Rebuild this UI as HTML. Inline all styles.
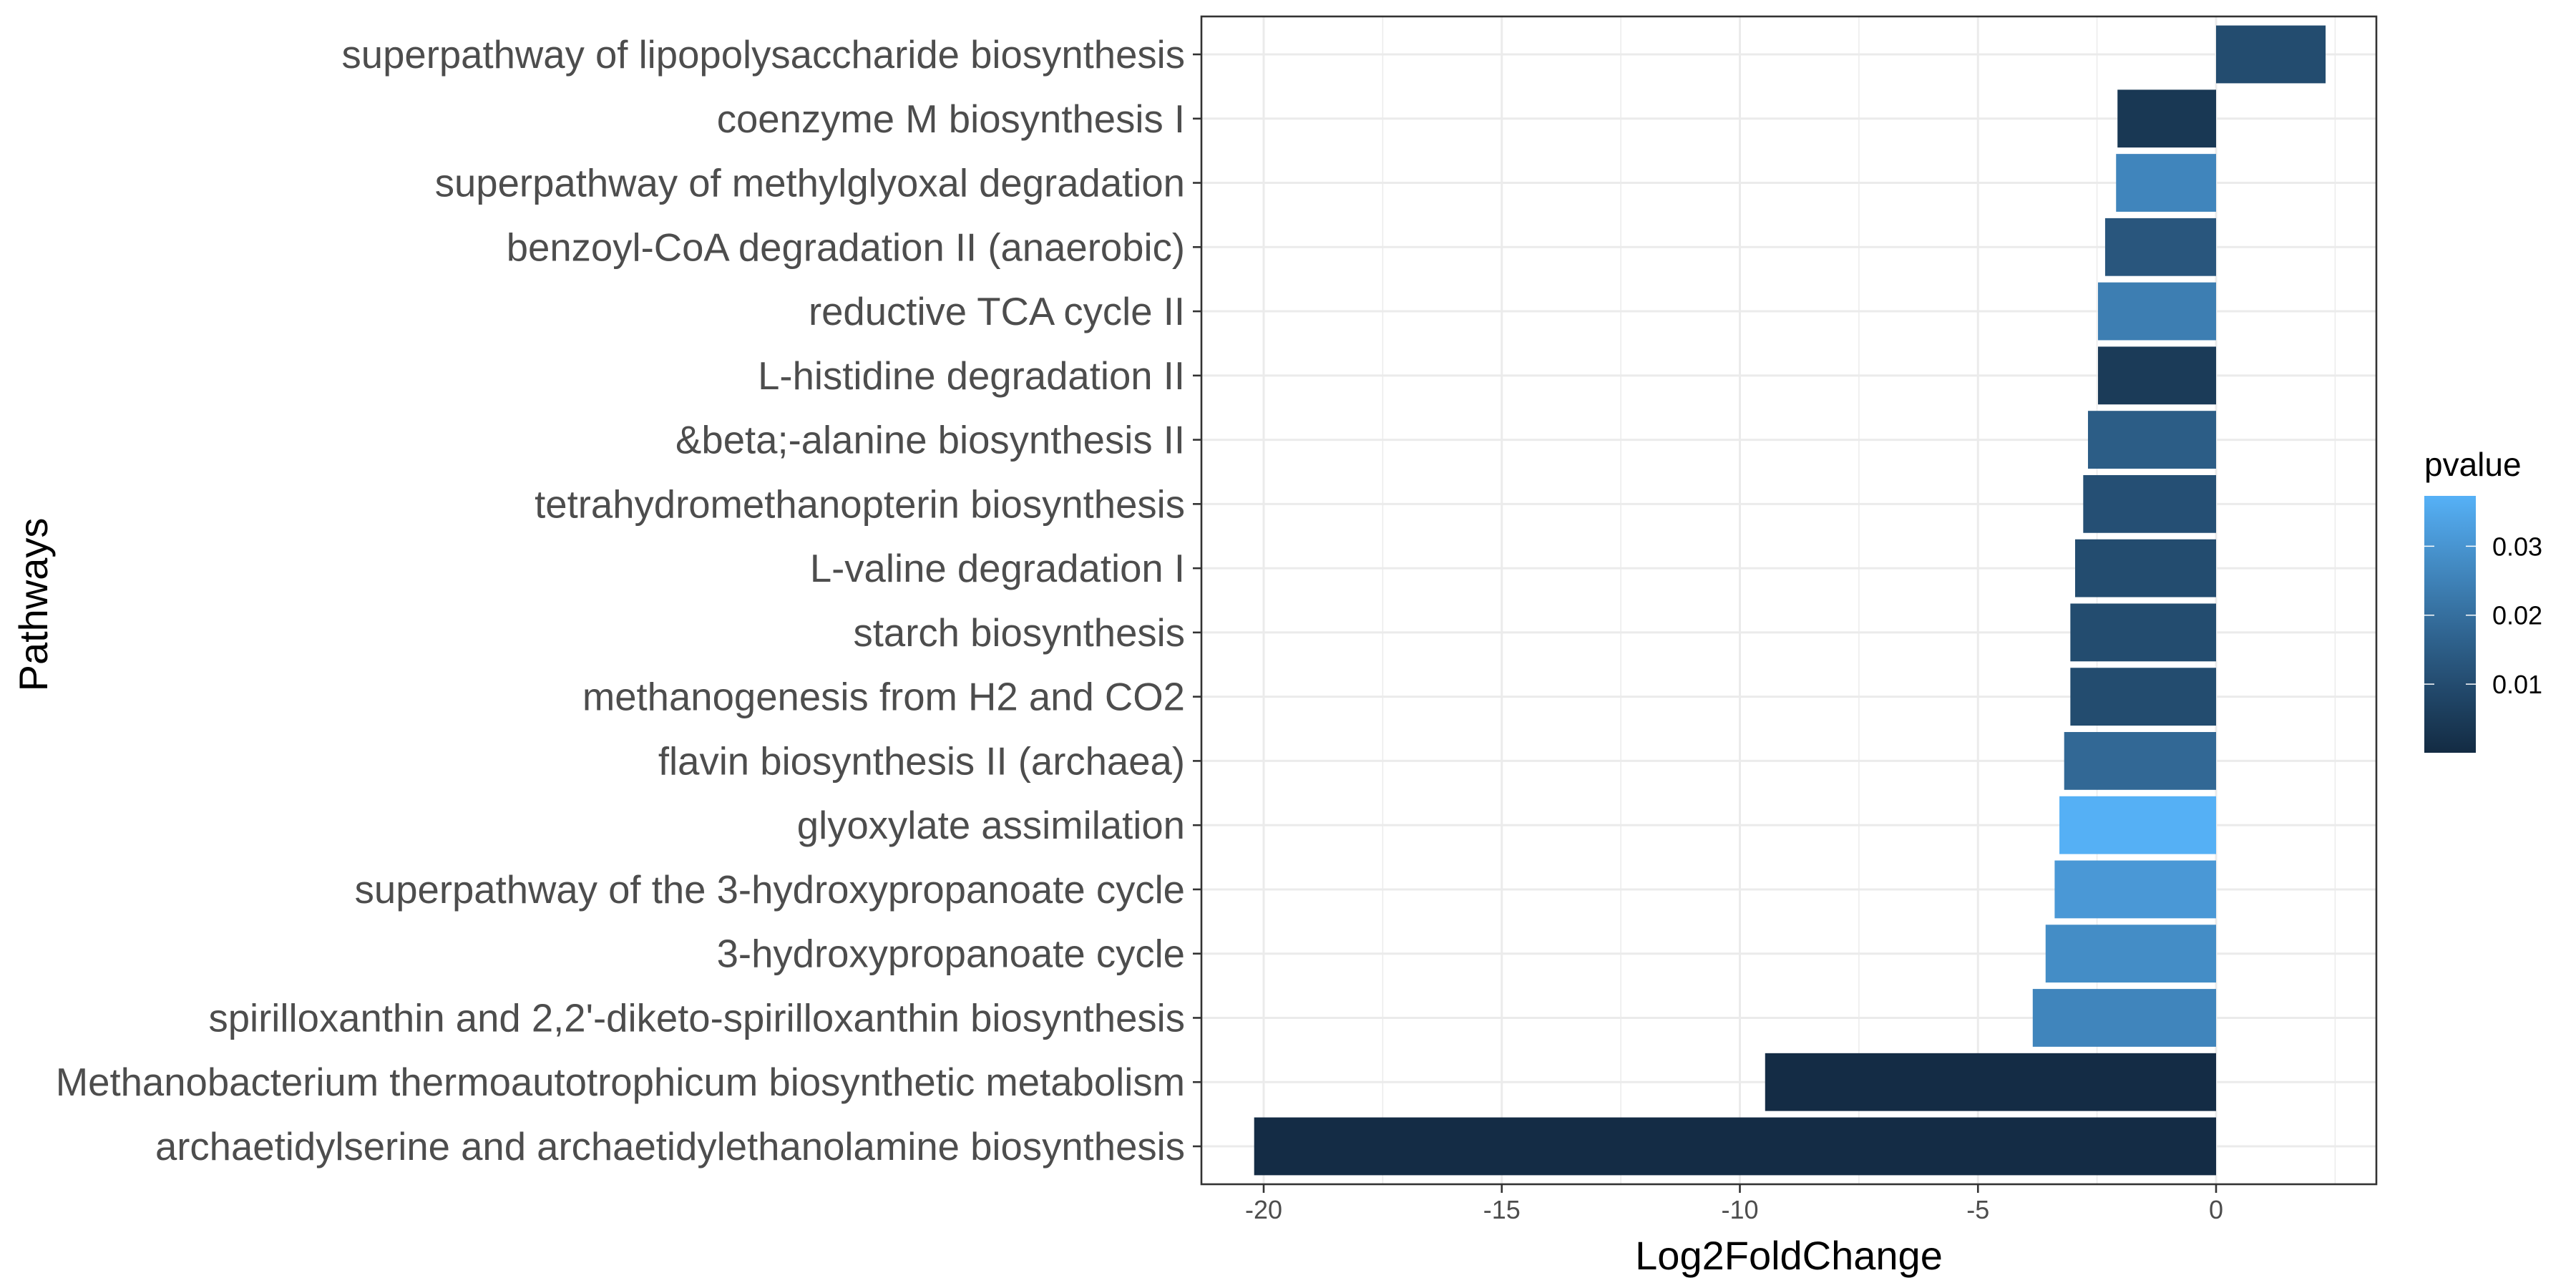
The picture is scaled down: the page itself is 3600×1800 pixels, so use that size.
<!DOCTYPE html>
<html><head><meta charset="utf-8"><style>
html,body{margin:0;padding:0;background:#fff;}
svg{display:block;font-family:"Liberation Sans",Arial,sans-serif;}
</style></head><body>
<svg id="chart" width="3600" height="1800" viewBox="0 0 3600 1800" xmlns="http://www.w3.org/2000/svg"></svg>
<script>
const categories = ["superpathway of lipopolysaccharide biosynthesis","coenzyme M biosynthesis I","superpathway of methylglyoxal degradation","benzoyl-CoA degradation II (anaerobic)","reductive TCA cycle II","L-histidine degradation II","&beta;-alanine biosynthesis II","tetrahydromethanopterin biosynthesis","L-valine degradation I","starch biosynthesis","methanogenesis from H2 and CO2","flavin biosynthesis II (archaea)","glyoxylate assimilation","superpathway of the 3-hydroxypropanoate cycle","3-hydroxypropanoate cycle","spirilloxanthin and 2,2'-diketo-spirilloxanthin biosynthesis","Methanobacterium thermoautotrophicum biosynthetic metabolism","archaetidylserine and archaetidylethanolamine biosynthesis"];
const log2fc = [2.3,-2.07,-2.1,-2.33,-2.48,-2.48,-2.69,-2.79,-2.96,-3.06,-3.06,-3.19,-3.29,-3.39,-3.58,-3.85,-9.47,-20.2];
const pvalues = [0.010,0.004,0.026,0.013,0.024,0.005,0.015,0.011,0.010,0.010,0.010,0.018,0.037,0.031,0.028,0.026,0.0005,0.0005];
const xTicks = [-20,-15,-10,-5,0];
const xMinor = [-17.5,-12.5,-7.5,-2.5,2.5];
const legendTicks = [0.01,0.02,0.03];
const pLimits = [0.00005,0.0373];

const NS="http://www.w3.org/2000/svg";
const svg=document.getElementById('chart');
function mk(tag,attrs,parent){const e=document.createElementNS(NS,tag);for(const k in attrs)e.setAttribute(k,attrs[k]);(parent||svg).appendChild(e);return e;}

const P={l:1679,r:3321,t:23,b:1655};
const X0=3097, UNIT=66.55;
function xs(v){return X0+v*UNIT;}
const rowTop=76, rowStep=(1602-76)/(categories.length-1);
function ys(i){return rowTop+i*rowStep;}

function hex2rgb(h){return [1,3,5].map(i=>parseInt(h.substr(i,2),16)/255);}
function lin(c){return c<=0.04045?c/12.92:Math.pow((c+0.055)/1.055,2.4);}
function delin(c){return c<=0.0031308?12.92*c:1.055*Math.pow(c,1/2.4)-0.055;}
function rgb2lab(rgb){const [r,g,b]=rgb.map(lin);let X=(0.4124*r+0.3576*g+0.1805*b)/0.95047,Y=0.2126*r+0.7152*g+0.0722*b,Z=(0.0193*r+0.1192*g+0.9505*b)/1.08883;const f=t=>t>0.008856?Math.cbrt(t):7.787*t+16/116;const fx=f(X),fy=f(Y),fz=f(Z);return [116*fy-16,500*(fx-fy),200*(fy-fz)];}
function lab2hex(L){const fy=(L[0]+16)/116,fx=fy+L[1]/500,fz=fy-L[2]/200;const fi=t=>t*t*t>0.008856?t*t*t:(t-16/116)/7.787;const X=fi(fx)*0.95047,Y=fi(fy),Z=fi(fz)*1.08883;let r=3.2406*X-1.5372*Y-0.4986*Z,g=-0.9689*X+1.8758*Y+0.0415*Z,b=0.0557*X-0.2040*Y+1.0570*Z;return '#'+[r,g,b].map(c=>Math.round(Math.max(0,Math.min(1,delin(c)))*255).toString(16).padStart(2,'0')).join('');}
const LO=rgb2lab(hex2rgb('#132B43')),HI=rgb2lab(hex2rgb('#56B1F7'));
function col(p){let t=(p-pLimits[0])/(pLimits[1]-pLimits[0]);t=Math.max(0,Math.min(1,t));return lab2hex(LO.map((v,i)=>v+(HI[i]-v)*t));}

const grid=mk('g',{});


xMinor.forEach(v=>{const l=mk('line',{x1:xs(v),x2:xs(v),y1:P.t,y2:P.b,stroke:'#ebebeb','stroke-width':1.5},grid);

});
xTicks.forEach(v=>{const l=mk('line',{x1:xs(v),x2:xs(v),y1:P.t,y2:P.b,stroke:'#ebebeb','stroke-width':3},grid);

});
categories.forEach((c,i)=>{const l=mk('line',{x1:P.l,x2:P.r,y1:ys(i),y2:ys(i),stroke:'#ebebeb','stroke-width':3},grid);

});

const barH=rowStep*0.9;
categories.forEach((c,i)=>{const v=log2fc[i];const x1=Math.min(xs(0),xs(v)),x2=Math.max(xs(0),xs(v));
const r=mk('rect',{x:x1,y:ys(i)-barH/2,width:x2-x1,height:barH,fill:col(pvalues[i])});

});

const border=mk('rect',{x:P.l,y:P.t,width:P.r-P.l,height:P.b-P.t,fill:'none',stroke:'#333','stroke-width':2.6});



categories.forEach((c,i)=>{const t=mk('line',{x1:P.l-12,x2:P.l,y1:ys(i),y2:ys(i),stroke:'#333','stroke-width':2.6});


const tx=mk('text',{x:1656,y:ys(i)+19,'text-anchor':'end','font-size':54.5,fill:'#4d4d4d'});
tx.innerHTML=c.replace(/&/g,'&amp;');

});

xTicks.forEach(v=>{const t=mk('line',{x1:xs(v),x2:xs(v),y1:P.b,y2:P.b+12,stroke:'#333','stroke-width':2.6});


const tx=mk('text',{x:xs(v),y:1703,'text-anchor':'middle','font-size':36,fill:'#4d4d4d'});
tx.textContent=String(v);

});

const xt=mk('text',{x:(P.l+P.r)/2,y:1774,'text-anchor':'middle','font-size':56,fill:'#000'});
xt.textContent='Log2FoldChange';


const yt=mk('text',{x:0,y:0,'text-anchor':'middle','font-size':56,fill:'#000',transform:'translate(66,845) rotate(-90)'});
yt.textContent='Pathways';



const lg=mk('g',{});


const lt=mk('text',{x:3388,y:665,'font-size':46,fill:'#000'},lg);
lt.textContent='pvalue';


const LB={x:3388,w:72,top:693,bot:1052};
const defs=mk('defs',{});
const gr=mk('linearGradient',{id:'pg',x1:0,y1:1,x2:0,y2:0},defs);
for(let k=0;k<=20;k++){mk('stop',{offset:k/20,'stop-color':col(pLimits[0]+(pLimits[1]-pLimits[0])*k/20)},gr);}
const cb=mk('rect',{x:LB.x,y:LB.top,width:LB.w,height:LB.bot-LB.top,fill:'url(#pg)'},lg);


function ly(p){return LB.bot-(p-pLimits[0])/(pLimits[1]-pLimits[0])*(LB.bot-LB.top);}
legendTicks.forEach(p=>{const y=ly(p);
const a=mk('line',{x1:LB.x,x2:LB.x+14,y1:y,y2:y,stroke:'#fff','stroke-width':1.5},lg);


const b=mk('line',{x1:LB.x+LB.w-14,x2:LB.x+LB.w,y1:y,y2:y,stroke:'#fff','stroke-width':1.5},lg);


const t=mk('text',{x:3483,y:y+13,'font-size':36,fill:'#000'},lg);
t.textContent=p.toFixed(2);

});
</script>
</body></html>
